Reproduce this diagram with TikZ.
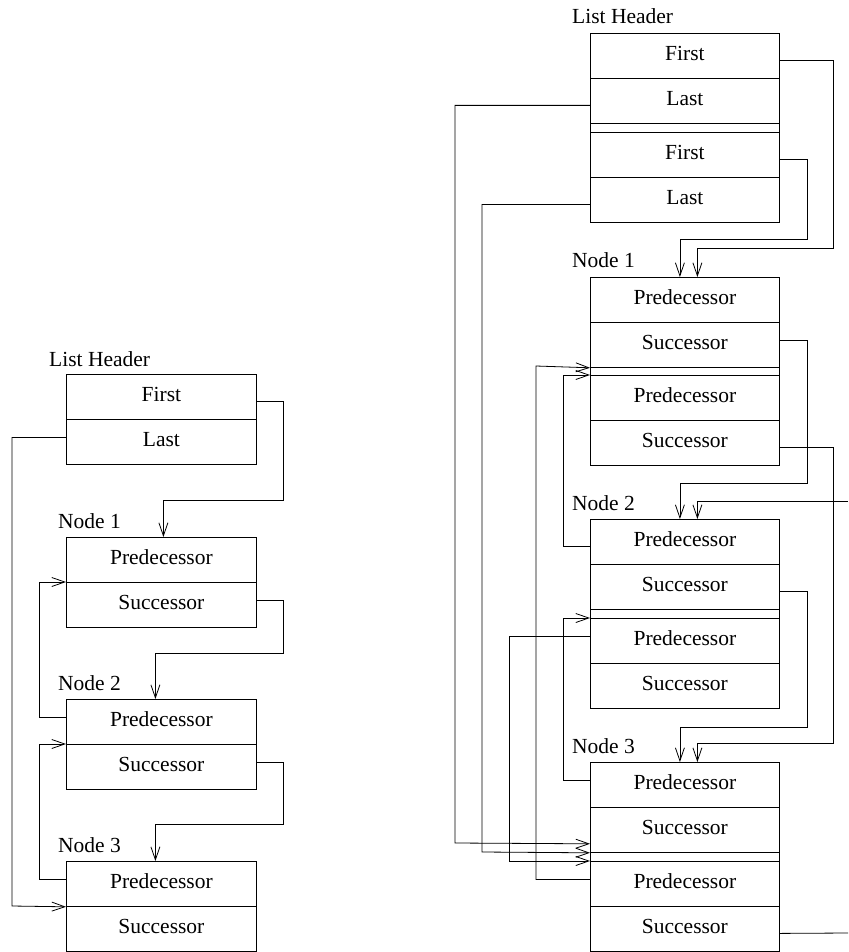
\documentclass[tikz,border=0pt]{standalone}
\usepackage{fontspec}
\setmainfont{Liberation Serif}
\usetikzlibrary{arrows.meta,calc}
\begin{document}
\begin{tikzpicture}[x=1pt,y=-1pt,
  cell/.style={draw,line width=0.8pt,minimum width=190pt,minimum height=45pt,inner sep=0pt,
    anchor=north west,text height=15pt,text depth=6pt,font=\fontsize{21.5}{26}\selectfont},
  rcell/.style={cell,minimum width=189pt},
  lbl/.style={anchor=base west,inner sep=0pt,font=\fontsize{21.5}{26}\selectfont},
  wire/.style={line width=0.8pt},
  ptr/.style={wire,-{Straight Barb[length=13pt,width=9pt,line width=0.8pt]}}]
\useasboundingbox (0,0) rectangle (848,952);
% ---------- left diagram ----------
\node[cell] (lh1) at (66,374) {First};
\node[cell] (lh2) at (66,419) {Last};
\node[cell] (l1p) at (66,537) {Predecessor};
\node[cell] (l1s) at (66,582) {Successor};
\node[cell] (l2p) at (66,699) {Predecessor};
\node[cell] (l2s) at (66,744) {Successor};
\node[cell] (l3p) at (66,861) {Predecessor};
\node[cell] (l3s) at (66,906) {Successor};
\node[lbl] (lhl) at (49,366) {List Header};
\node[lbl] (l1l) at (58,528) {Node 1};
\node[lbl] (l2l) at (58,690) {Node 2};
\node[lbl] (l3l) at (58,852) {Node 3};
\draw[ptr] ($(lh1.east)+(0,4.5)$) -| (283,500) -| ($(l1p.north)+(2,0)$);
\draw[ptr] ($(lh2.west)+(0,-4.5)$) -| (12,906) -- (l3p.south west);
\draw[ptr] ($(l1s.east)+(0,-4.5)$) -| (283,653) -| ($(l2p.north)+(-6,0)$);
\draw[ptr] ($(l2p.west)+(0,-4.5)$) -| (39,582) -- (l1s.north west);
\draw[ptr] ($(l2s.east)+(0,-4.5)$) -| (283,824) -| ($(l3p.north)+(-6,0)$);
\draw[ptr] ($(l3p.west)+(0,-4.5)$) -| (39,744) -- (l2s.north west);
% ---------- right diagram ----------
\node[rcell] (rh1) at (590,33) {First};
\node[rcell] (rh2) at (590,78) {Last};
\node[rcell] (rh3) at (590,132) {First};
\node[rcell] (rh4) at (590,177) {Last};
\node[rcell] (r1pa) at (590,277) {Predecessor};
\node[rcell] (r1sa) at (590,322) {Successor};
\node[rcell] (r1pb) at (590,375) {Predecessor};
\node[rcell] (r1sb) at (590,420) {Successor};
\node[rcell] (r2pa) at (590,519) {Predecessor};
\node[rcell] (r2sa) at (590,564) {Successor};
\node[rcell] (r2pb) at (590,618) {Predecessor};
\node[rcell] (r2sb) at (590,663) {Successor};
\node[rcell] (r3pa) at (590,762) {Predecessor};
\node[rcell] (r3sa) at (590,807) {Successor};
\node[rcell] (r3pb) at (590,861) {Predecessor};
\node[rcell] (r3sb) at (590,906) {Successor};
% side walls joining each double record
\draw[wire] (rh2.south west) -- (rh3.north west) (rh2.south east) -- (rh3.north east);
\draw[wire] (r1sa.south west) -- (r1pb.north west) (r1sa.south east) -- (r1pb.north east);
\draw[wire] (r2sa.south west) -- (r2pb.north west) (r2sa.south east) -- (r2pb.north east);
\draw[wire] (r3sa.south west) -- (r3pb.north west) (r3sa.south east) -- (r3pb.north east);
\node[lbl] (rhl) at (572,24) {List Header};
\node[lbl] (r1l) at (572,267) {Node 1};
\node[lbl] (r2l) at (572,510) {Node 2};
\node[lbl] (r3l) at (572,753) {Node 3};
\coordinate (offin) at (848,501);
\coordinate (offout) at (848,933);
\draw[ptr] ($(rh1.east)+(0,4.5)$) -| (833,248) -| ($(r1pa.north)+(12.5,0)$);
\draw[ptr] ($(rh2.west)+(0,4.5)$) -| (455,843) -- ($(r3sa.south west)+(0,-9)$);
\draw[ptr] ($(rh3.east)+(0,4.5)$) -| (807,239) -| ($(r1pa.north)+(-5,0)$);
\draw[ptr] ($(rh4.west)+(0,4.5)$) -| (482,852) -- (r3sa.south west);
\draw[ptr] ($(r1sa.east)+(0,-4.5)$) -| (807,483) -| ($(r2pa.north)+(-5,0)$);
\draw[ptr] ($(r1sb.east)+(0,4.5)$) -| (833,743) -| ($(r3pa.north)+(12.5,0)$);
\draw[ptr] (offin) -| ($(r2pa.north)+(12.5,0)$);
\draw[ptr] ($(r2pa.west)+(0,4.5)$) -| (563,375) -- (r1pb.north west);
\draw[ptr] ($(r2sa.east)+(0,4.5)$) -| (807,727) -| ($(r3pa.north)+(-5,0)$);
\draw[ptr] ($(r2pb.west)+(0,-4.5)$) -| (509,861) -- (r3pb.north west);
\draw[ptr] ($(r3pa.west)+(0,-4.5)$) -| (563,618) -- (r2pb.north west);
\draw[ptr] ($(r3pb.west)+(0,-4.5)$) -| (536,366) -- (r1sa.south west);
\draw[wire] ($(r3sb.east)+(0,4.5)$) -- (offout);
\end{tikzpicture}
\end{document}
